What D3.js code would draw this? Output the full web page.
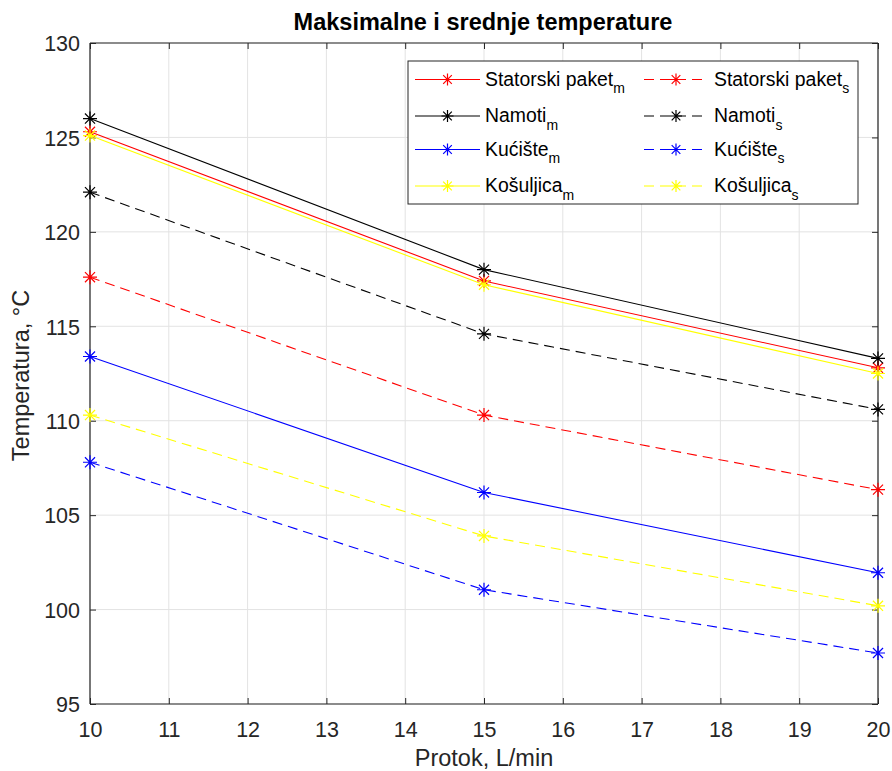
<!DOCTYPE html>
<html><head><meta charset="utf-8">
<script src="https://cdn.jsdelivr.net/npm/d3@7"></script>
<style>body{margin:0;background:#fff}svg{display:block}text{font-family:"Liberation Sans",Arial,sans-serif}</style>
</head><body><svg id="c" width="892" height="771"></svg>
<script>
const flow = [10, 15, 20];
const statorM = [125.3, 117.4, 112.8];
const namotiM = [126.0, 118.0, 113.3];
const kucisteM = [113.4, 106.2, 101.95];
const kosuljicaM = [125.1, 117.2, 112.5];
const statorS = [117.6, 110.3, 106.35];
const namotiS = [122.1, 114.6, 110.6];
const kucisteS = [107.8, 101.05, 97.7];
const kosuljicaS = [110.3, 103.9, 100.2];
const xTicks = [10,11,12,13,14,15,16,17,18,19,20];
const yTicks = [95,100,105,110,115,120,125,130];

const series = [
  {name:"Statorski paket", sub:"m", v:statorM, color:"#ff0000", dash:null},
  {name:"Namoti", sub:"m", v:namotiM, color:"#000000", dash:null},
  {name:"Kućište", sub:"m", v:kucisteM, color:"#0000ff", dash:null},
  {name:"Košuljica", sub:"m", v:kosuljicaM, color:"#ffff00", dash:null},
  {name:"Statorski paket", sub:"s", v:statorS, color:"#ff0000", dash:"10,6"},
  {name:"Namoti", sub:"s", v:namotiS, color:"#000000", dash:"10,6"},
  {name:"Kućište", sub:"s", v:kucisteS, color:"#0000ff", dash:"10,6"},
  {name:"Košuljica", sub:"s", v:kosuljicaS, color:"#ffff00", dash:"10,6"}
];

const svg = d3.select("#c");
const L=90, R=878, T=43, B=704;
const x = d3.scaleLinear().domain([10,20]).range([L,R]);
const y = d3.scaleLinear().domain([95,130]).range([B,T]);
const FONT = '"Liberation Sans",Arial,sans-serif';

// grid
svg.append("g").selectAll("line").data(xTicks).join("line")
  .attr("x1",d=>x(d)).attr("x2",d=>x(d)).attr("y1",T).attr("y2",B)
  .attr("stroke","#e3e3e3").attr("stroke-width",1);
svg.append("g").selectAll("line").data(yTicks).join("line")
  .attr("x1",L).attr("x2",R).attr("y1",d=>y(d)).attr("y2",d=>y(d))
  .attr("stroke","#e3e3e3").attr("stroke-width",1);

// axes
const axCol="#262626";
const gx = svg.append("g").attr("transform",`translate(0,${B})`)
  .call(d3.axisBottom(x).tickValues(xTicks).tickSize(-6).tickFormat(d3.format("d")));
const gxt = svg.append("g").attr("transform",`translate(0,${T})`)
  .call(d3.axisTop(x).tickValues(xTicks).tickSize(-6).tickFormat(""));
const gy = svg.append("g").attr("transform",`translate(${L},0)`)
  .call(d3.axisLeft(y).tickValues(yTicks).tickSize(-6).tickFormat(d3.format("d")));
const gyr = svg.append("g").attr("transform",`translate(${R},0)`)
  .call(d3.axisRight(y).tickValues(yTicks).tickSize(-6).tickFormat(""));
[gx,gxt,gy,gyr].forEach(g=>{
  g.attr("font-family",FONT).attr("font-size",21.5);
  g.selectAll("path").attr("stroke",axCol).attr("stroke-width",1.2);
  g.selectAll("line").attr("stroke",axCol);
  g.selectAll("text").attr("fill",axCol);
});
gx.selectAll("text").attr("y",33).attr("dy",0);
gy.selectAll("text").attr("x",-10).attr("dy","0.36em");
gx.selectAll("path").attr("d",`M${L},0H${R}`);
gxt.selectAll("path").attr("d",`M${L},0H${R}`);
gy.selectAll("path").attr("d",`M0,${T}V${B}`);
gyr.selectAll("path").attr("d",`M0,${T}V${B}`);

// lines
const line = d3.line().x((d,i)=>x(flow[i])).y(d=>y(d));
function star(g, cx, cy, color, r){
  const k = r*0.72;
  const d = `M${cx-r},${cy}H${cx+r}M${cx},${cy-r}V${cy+r}`+
    `M${cx-k},${cy-k}L${cx+k},${cy+k}M${cx-k},${cy+k}L${cx+k},${cy-k}`;
  g.append("path").attr("d",d).attr("stroke",color).attr("stroke-width",1.2).attr("fill","none");
}
const plotOrder = [4,5,6,7,0,1,2,3];
plotOrder.forEach(i=>{
  const s = series[i];
  const g = svg.append("g");
  g.append("path").datum(s.v).attr("d",line).attr("fill","none")
    .attr("stroke",s.color).attr("stroke-width",1.1).attr("stroke-dasharray",s.dash);
  s.v.forEach((v,j)=>star(g, x(flow[j]), y(v), s.color, 7));
});

// title & labels
svg.append("text").attr("x",(L+R)/2 - 1).attr("y",30).attr("text-anchor","middle")
  .attr("font-family",FONT).attr("font-size",23.5).attr("font-weight","bold").attr("fill","#000")
  .text("Maksimalne i srednje temperature");
svg.append("text").attr("x",(L+R)/2).attr("y",766).attr("text-anchor","middle")
  .attr("font-family",FONT).attr("font-size",23.5).attr("fill",axCol).text("Protok, L/min");
svg.append("text").attr("transform",`translate(29,${(T+B)/2 + 2}) rotate(-90)`).attr("text-anchor","middle")
  .attr("font-family",FONT).attr("font-size",23.5).attr("fill",axCol).text("Temperatura, °C");

// legend
const lg = svg.append("g");
lg.append("rect").attr("x",408).attr("y",61).attr("width",450).attr("height",143)
  .attr("fill","#fff").attr("stroke",axCol).attr("stroke-width",1);
const rowY = [79.5,116,149.5,186];
const colX = [{l1:415,l2:480,t:485},{l1:644,l2:708,t:714}];
series.forEach((s,i)=>{
  const c = colX[Math.floor(i/4)], ry = rowY[i%4];
  lg.append("line").attr("x1",c.l1).attr("x2",c.l2).attr("y1",ry).attr("y2",ry)
    .attr("stroke",s.color).attr("stroke-width",1.1).attr("stroke-dasharray",s.dash);
  star(lg,(c.l1+c.l2)/2,ry,s.color,6);
  const t = lg.append("text").attr("x",c.t).attr("y",ry+6)
    .attr("font-family",FONT).attr("font-size",19.4).attr("fill","#000");
  t.append("tspan").text(s.name);
  t.append("tspan").attr("dy",7.5).attr("font-size",14).text(s.sub);
});
</script></body></html>
